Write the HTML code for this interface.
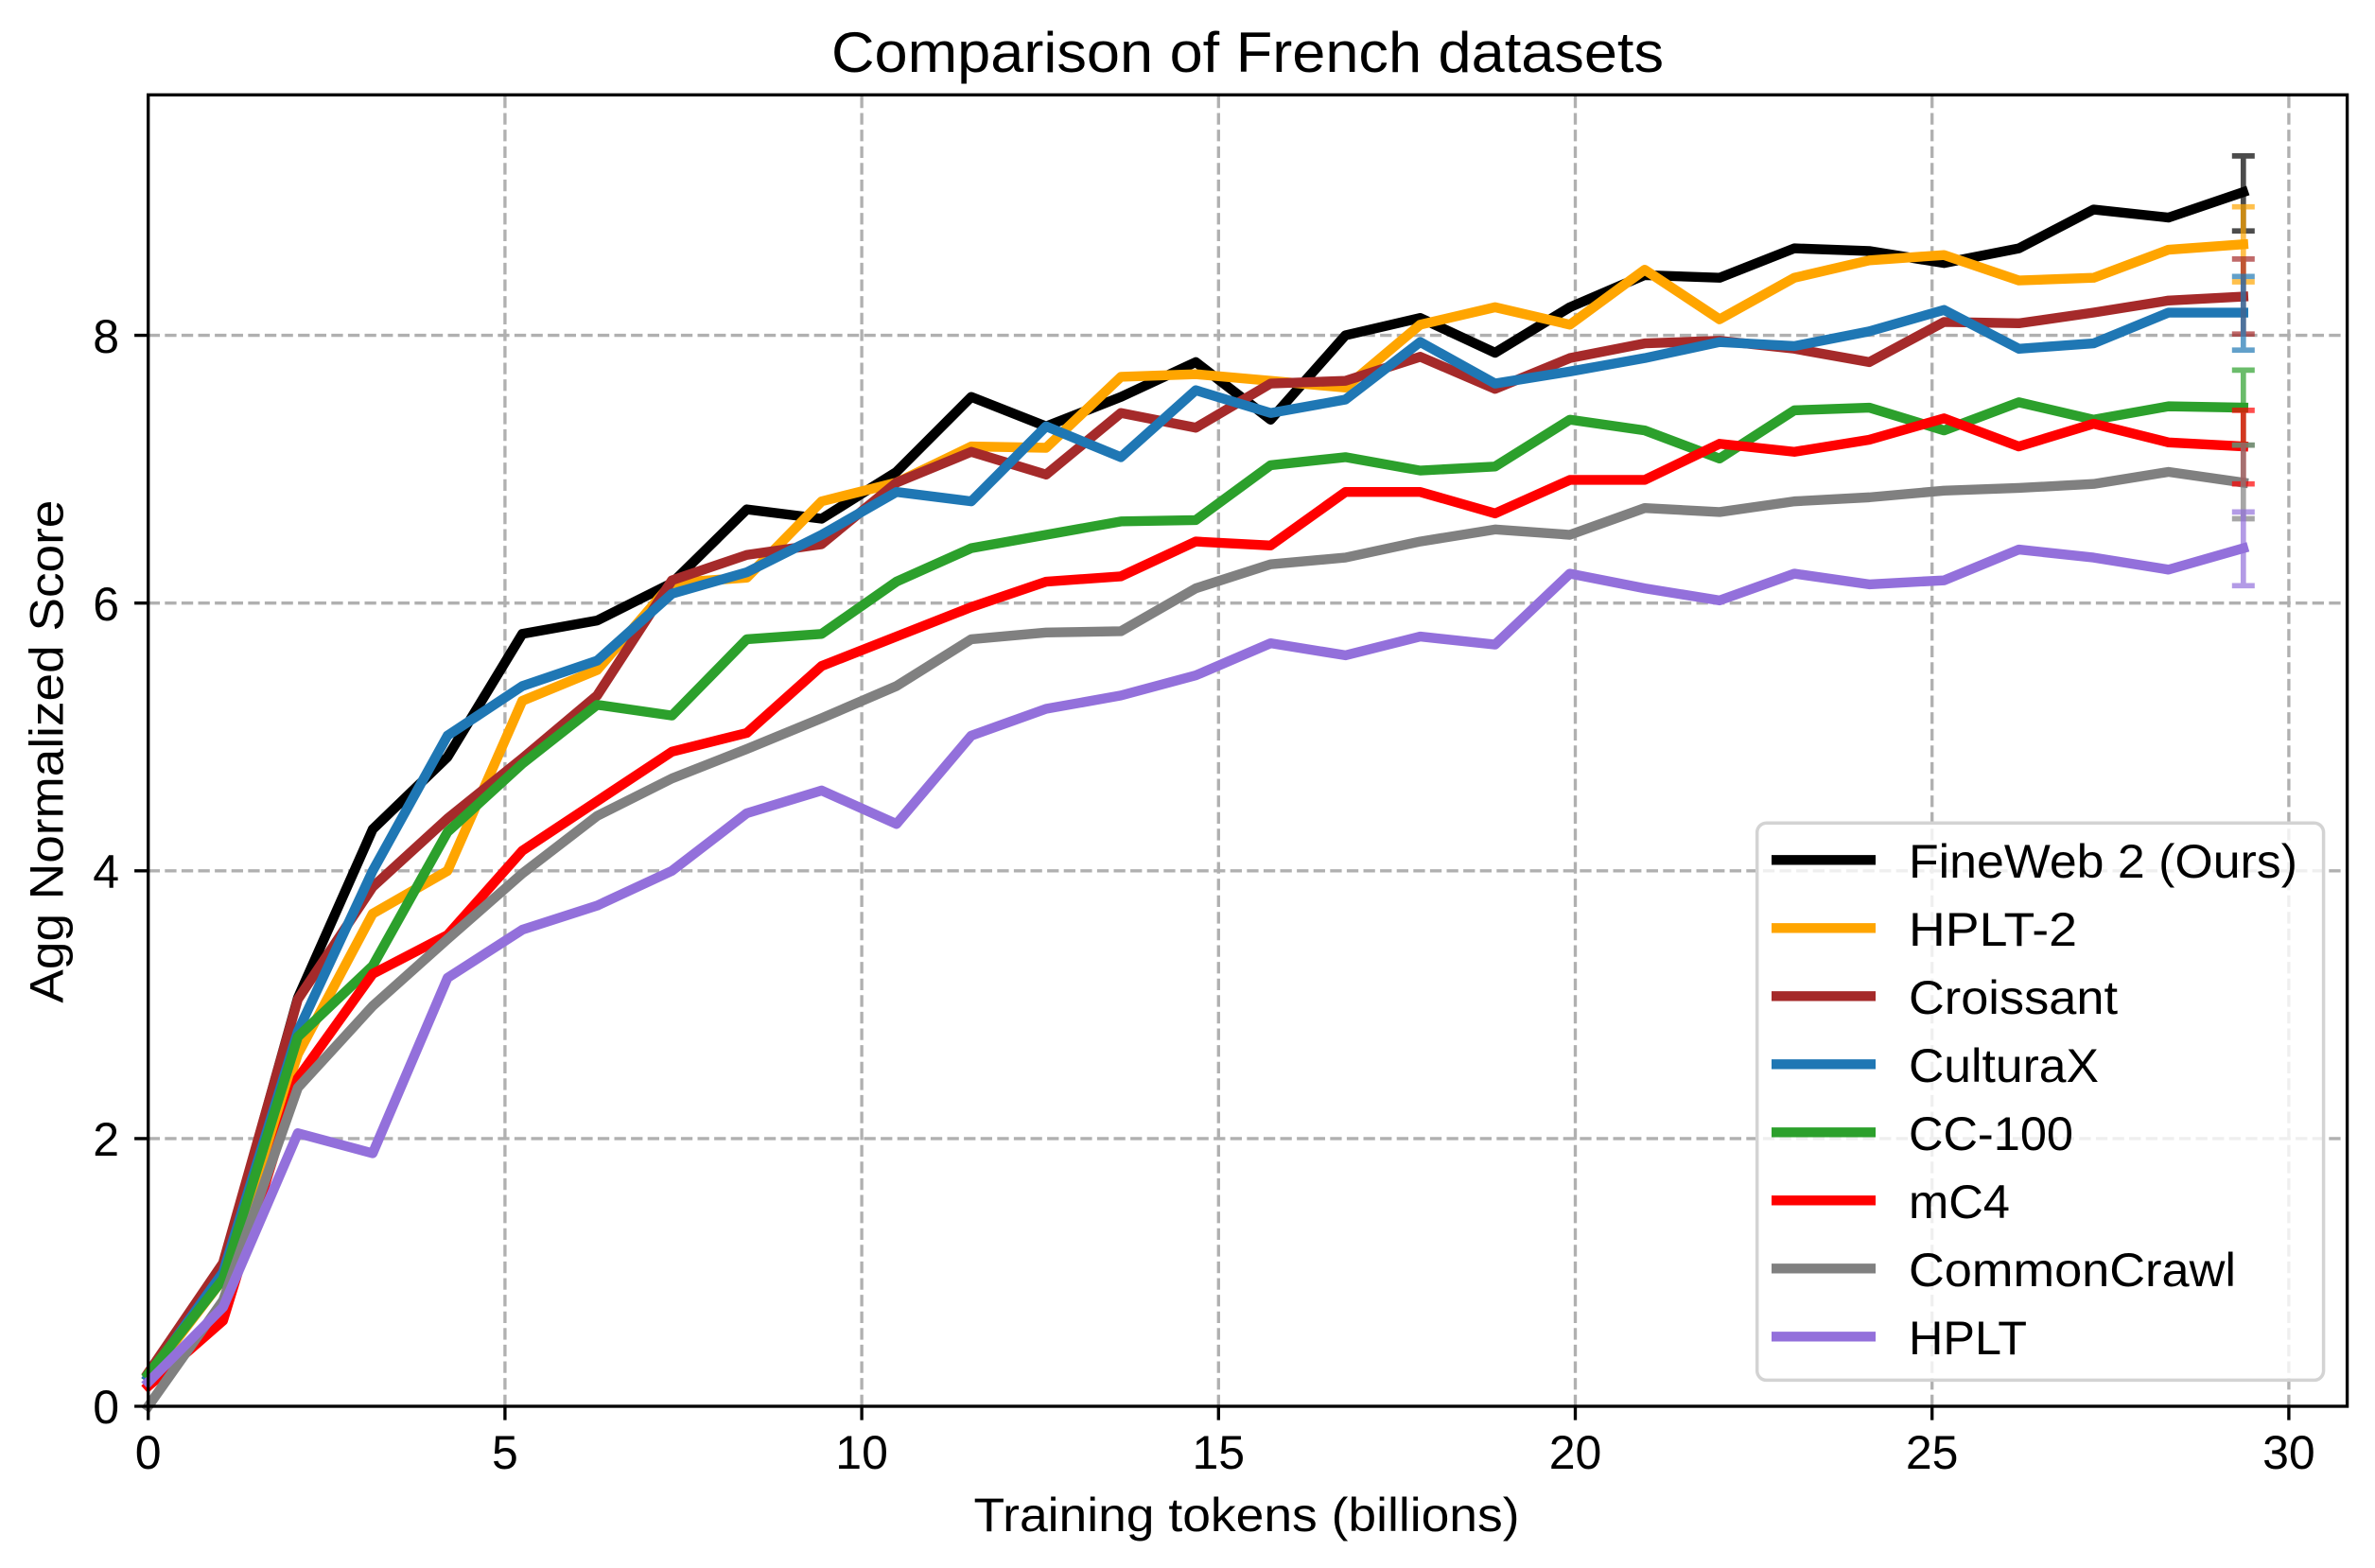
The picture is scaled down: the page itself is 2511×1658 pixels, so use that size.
<!DOCTYPE html>
<html>
<head>
<meta charset="utf-8">
<style>
html,body{margin:0;padding:0;background:#fff;}
svg{display:block;}
text{font-family:"Liberation Sans","DejaVu Sans",Arial,sans-serif;fill:#000;}
</style>
</head>
<body>
<svg xmlns="http://www.w3.org/2000/svg" width="2511" height="1658" viewBox="0 0 2511 1658">
<rect x="0" y="0" width="2511" height="1658" fill="#ffffff"/>

<!-- grid -->
<g stroke="#b0b0b0" stroke-width="3.33" stroke-dasharray="12.3 5.3" fill="none">
  <path d="M533.9 1487V100.3M911.1 1487V100.3M1288.3 1487V100.3M1665.5 1487V100.3M2042.7 1487V100.3M2419.9 1487V100.3"/>
  <path d="M156.7 1203.9H2481.6M156.7 920.8H2481.6M156.7 637.7H2481.6M156.7 354.6H2481.6"/>
</g>

<!-- series -->
<g transform="translate(156.7 1487) scale(79.11 -141.55)" fill="none" stroke-linejoin="round" stroke-linecap="square">
  <polyline vector-effect="non-scaling-stroke" stroke="#000000" stroke-width="10.4" points="0,0.22 1,1.05 2,3.05 3,4.31 4,4.85 5,5.77 6,5.87 7,6.15 8,6.70 9,6.63 10,6.98 11,7.54 12,7.32 13,7.54 14,7.80 15,7.37 16,8.00 17,8.13 18,7.87 19,8.21 20,8.45 21,8.43 22,8.65 23,8.63 24,8.54 25,8.65 26,8.94 27,8.88 28,9.07"/>
  <polyline vector-effect="non-scaling-stroke" stroke="#ffa500" stroke-width="10.4" points="0,0.22 1,0.95 2,2.63 3,3.68 4,4.00 5,5.27 6,5.50 7,6.15 8,6.19 9,6.76 10,6.90 11,7.17 12,7.16 13,7.69 14,7.71 15,7.66 16,7.61 17,8.08 18,8.21 19,8.08 20,8.49 21,8.12 22,8.43 23,8.56 24,8.60 25,8.41 26,8.43 27,8.64 28,8.68"/>
  <polyline vector-effect="non-scaling-stroke" stroke="#a52a2a" stroke-width="10.4" points="0,0.25 1,1.07 2,3.04 3,3.88 4,4.39 5,4.84 6,5.31 7,6.17 8,6.36 9,6.44 10,6.90 11,7.13 12,6.96 13,7.42 14,7.31 15,7.64 16,7.66 17,7.84 18,7.60 19,7.83 20,7.94 21,7.96 22,7.90 23,7.80 24,8.10 25,8.09 26,8.17 27,8.26 28,8.29"/>
  <polyline vector-effect="non-scaling-stroke" stroke="#1f77b4" stroke-width="10.4" points="0,0.22 1,1.00 2,2.80 3,4.00 4,5.01 5,5.38 6,5.57 7,6.07 8,6.23 9,6.51 10,6.83 11,6.76 12,7.32 13,7.09 14,7.59 15,7.42 16,7.52 17,7.95 18,7.64 19,7.73 20,7.83 21,7.95 22,7.92 23,8.03 24,8.19 25,7.90 26,7.94 27,8.17 28,8.17"/>
  <polyline vector-effect="non-scaling-stroke" stroke="#2ca02c" stroke-width="10.4" points="0,0.24 1,0.95 2,2.76 3,3.29 4,4.29 5,4.80 6,5.24 7,5.16 8,5.73 9,5.77 10,6.16 11,6.41 12,6.51 13,6.61 14,6.62 15,7.03 16,7.09 17,6.99 18,7.02 19,7.37 20,7.29 21,7.08 22,7.44 23,7.46 24,7.29 25,7.50 26,7.37 27,7.47 28,7.46"/>
  <polyline vector-effect="non-scaling-stroke" stroke="#ff0000" stroke-width="10.4" points="0,0.15 1,0.64 2,2.45 3,3.23 4,3.52 5,4.15 6,4.52 7,4.89 8,5.03 9,5.53 10,5.75 11,5.97 12,6.16 13,6.20 14,6.46 15,6.43 16,6.83 17,6.83 18,6.67 19,6.92 20,6.92 21,7.19 22,7.13 23,7.22 24,7.38 25,7.17 26,7.34 27,7.20 28,7.17"/>
  <polyline vector-effect="non-scaling-stroke" stroke="#808080" stroke-width="10.4" points="0,0 1,0.79 2,2.38 3,2.99 4,3.49 5,3.98 6,4.41 7,4.69 8,4.91 9,5.14 10,5.38 11,5.73 12,5.78 13,5.79 14,6.11 15,6.29 16,6.34 17,6.46 18,6.55 19,6.51 20,6.71 21,6.68 22,6.76 23,6.79 24,6.84 25,6.86 26,6.89 27,6.98 28,6.90"/>
  <polyline vector-effect="non-scaling-stroke" stroke="#9370db" stroke-width="10.4" points="0,0.18 1,0.74 2,2.04 3,1.89 4,3.20 5,3.56 6,3.74 7,4.00 8,4.43 9,4.60 10,4.35 11,5.01 12,5.21 13,5.31 14,5.46 15,5.70 16,5.61 17,5.75 18,5.69 19,6.22 20,6.11 21,6.02 22,6.22 23,6.14 24,6.17 25,6.40 26,6.34 27,6.25 28,6.41"/>
</g>

<!-- error bars -->
<g fill="none" stroke-width="5.7" stroke-opacity="0.7">
  <path stroke="#000000" d="M2371.8 164.9V244.2M2359.8 164.9H2383.8M2359.8 244.2H2383.8"/>
  <path stroke="#ffa500" d="M2371.8 218.7V298.0M2359.8 218.7H2383.8M2359.8 298.0H2383.8"/>
  <path stroke="#a52a2a" d="M2371.8 273.9V353.2M2359.8 273.9H2383.8M2359.8 353.2H2383.8"/>
  <path stroke="#1f77b4" d="M2371.8 292.3V370.2M2359.8 292.3H2383.8M2359.8 370.2H2383.8"/>
  <path stroke="#2ca02c" d="M2371.8 391.4V470.7M2359.8 391.4H2383.8M2359.8 470.7H2383.8"/>
  <path stroke="#ff0000" d="M2371.8 433.9V511.7M2359.8 433.9H2383.8M2359.8 511.7H2383.8"/>
  <path stroke="#808080" d="M2371.8 470.7V548.5M2359.8 470.7H2383.8M2359.8 548.5H2383.8"/>
  <path stroke="#9370db" d="M2371.8 541.4V619.3M2359.8 541.4H2383.8M2359.8 619.3H2383.8"/>
</g>

<!-- legend -->
<rect x="1857.7" y="870.2" width="598.9" height="589.2" rx="10" ry="10" fill="#ffffff" fill-opacity="0.8" stroke="#d3d3d3" stroke-width="3.5"/>
<g stroke-width="10.4" fill="none">
  <path stroke="#000000" d="M1873 909.3H1983"/>
  <path stroke="#ffa500" d="M1873 981.3H1983"/>
  <path stroke="#a52a2a" d="M1873 1053.3H1983"/>
  <path stroke="#1f77b4" d="M1873 1125.3H1983"/>
  <path stroke="#2ca02c" d="M1873 1197.3H1983"/>
  <path stroke="#ff0000" d="M1873 1269.3H1983"/>
  <path stroke="#808080" d="M1873 1341.3H1983"/>
  <path stroke="#9370db" d="M1873 1413.3H1983"/>
</g>
<g font-size="50">
  <text x="2018" y="928" textLength="411" lengthAdjust="spacingAndGlyphs">FineWeb 2 (Ours)</text>
  <text x="2018" y="1000" textLength="178" lengthAdjust="spacingAndGlyphs">HPLT-2</text>
  <text x="2018" y="1072" textLength="221" lengthAdjust="spacingAndGlyphs">Croissant</text>
  <text x="2018" y="1144" textLength="201" lengthAdjust="spacingAndGlyphs">CulturaX</text>
  <text x="2018" y="1216" textLength="174" lengthAdjust="spacingAndGlyphs">CC-100</text>
  <text x="2018" y="1288" textLength="107" lengthAdjust="spacingAndGlyphs">mC4</text>
  <text x="2018" y="1360" textLength="346" lengthAdjust="spacingAndGlyphs">CommonCrawl</text>
  <text x="2018" y="1432" textLength="125" lengthAdjust="spacingAndGlyphs">HPLT</text>
</g>

<!-- spines -->
<rect x="156.7" y="100.3" width="2324.9" height="1386.7" fill="none" stroke="#000000" stroke-width="3.33"/>

<!-- ticks -->
<g stroke="#000000" stroke-width="3.33">
  <path d="M156.7 1487V1501.6M533.9 1487V1501.6M911.1 1487V1501.6M1288.3 1487V1501.6M1665.5 1487V1501.6M2042.7 1487V1501.6M2419.9 1487V1501.6"/>
  <path d="M142.1 1487H156.7M142.1 1203.9H156.7M142.1 920.8H156.7M142.1 637.7H156.7M142.1 354.6H156.7"/>
</g>

<!-- tick labels -->
<g font-size="50" text-anchor="middle">
  <text x="156.7" y="1553">0</text>
  <text x="533.9" y="1553">5</text>
  <text x="911.1" y="1553">10</text>
  <text x="1288.3" y="1553">15</text>
  <text x="1665.5" y="1553">20</text>
  <text x="2042.7" y="1553">25</text>
  <text x="2419.9" y="1553">30</text>
</g>
<g font-size="50" text-anchor="end">
  <text x="126" y="1505">0</text>
  <text x="126" y="1222">2</text>
  <text x="126" y="939">4</text>
  <text x="126" y="656">6</text>
  <text x="126" y="373">8</text>
</g>

<!-- axis labels & title -->
<text x="1318" y="1619" font-size="50" text-anchor="middle" textLength="577" lengthAdjust="spacingAndGlyphs">Training tokens (billions)</text>
<text transform="translate(66.5 794.6) rotate(-90)" x="0" y="0" font-size="50" text-anchor="middle" textLength="532" lengthAdjust="spacingAndGlyphs">Agg Normalized Score</text>
<text x="1319" y="76" font-size="60" text-anchor="middle" textLength="880" lengthAdjust="spacingAndGlyphs">Comparison of French datasets</text>
</svg>
</body>
</html>
